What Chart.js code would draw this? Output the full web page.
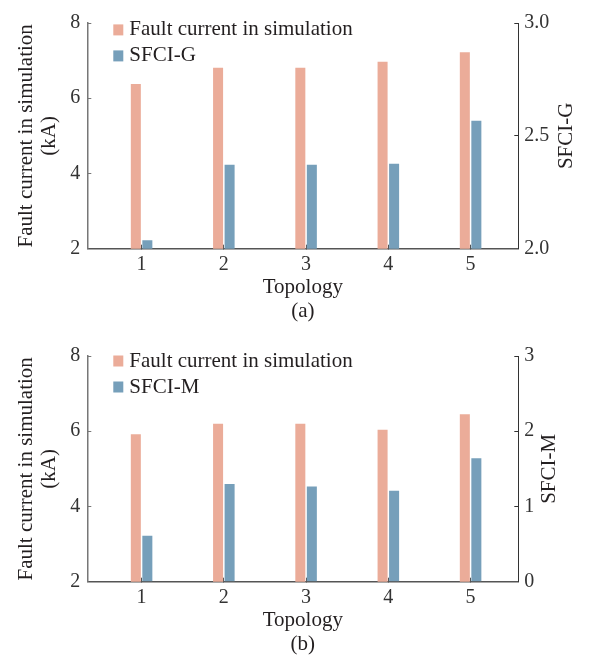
<!DOCTYPE html>
<html>
<head>
<meta charset="utf-8">
<script src="https://cdn.jsdelivr.net/npm/chart.js@4.4.1/dist/chart.umd.min.js"></script>
<style>
    html, body { margin: 0; padding: 0; background: #fff; }
    #pagina { position: relative; width: 591px; height: 664px; overflow: hidden; }
    .painel { position: absolute; left: 0; width: 591px; height: 332px; }
</style>
</head>
<body>
<div id="pagina">
    <div class="painel" style="top:0"><canvas id="graficoA" width="591" height="332"></canvas></div>
    <div class="painel" style="top:333px"><canvas id="graficoB" width="591" height="332"></canvas></div>
</div>
<script>
// Dados
const topologias = [1, 2, 3, 4, 5];
const correnteA = [6.38, 6.81, 6.81, 6.97, 7.22];   // kA, painel (a)
const sfciG = [2.037, 2.372, 2.372, 2.376, 2.567];
const correnteB = [5.92, 6.20, 6.20, 6.04, 6.45];   // kA, painel (b)
const sfciM = [0.61, 1.30, 1.265, 1.21, 1.64];

const ticksCorrente = [2, 4, 6, 8];
const ticksSfciG = [2.0, 2.5, 3.0];
const ticksSfciM = [0, 1, 2, 3];

const COR_SIMULACAO = '#ebac99';
const COR_INDICE = '#769fba';
const FAMILIA = "'Liberation Serif', 'Times New Roman', serif";

// Legenda dentro da área do gráfico (canto superior esquerdo)
const legendaInterna = {
    id: 'legendaInterna',
    afterDraw(chart, args, opts) {
        const { ctx, chartArea } = chart;
        ctx.save();
        ctx.font = `21px ${FAMILIA}`;
        ctx.textBaseline = 'middle';
        ctx.textAlign = 'left';
        chart.data.datasets.forEach((ds, i) => {
            const y = chartArea.top + opts.topo + i * 26;
            const x = chartArea.left + 26;
            ctx.fillStyle = ds.backgroundColor;
            ctx.fillRect(x, y - 5.5, 10, 11);
            ctx.fillStyle = '#231f20';
            ctx.fillText(ds.label, x + 16, y);
        });
        ctx.restore();
    }
};

// Título do eixo direito lido de baixo para cima (igual ao esquerdo)
const tituloDireito = {
    id: 'tituloDireito',
    afterDraw(chart, args, opts) {
        const { ctx, chartArea } = chart;
        ctx.save();
        ctx.translate(opts.x, (chartArea.top + chartArea.bottom) / 2);
        ctx.rotate(-Math.PI / 2);
        ctx.font = `21px ${FAMILIA}`;
        ctx.fillStyle = '#231f20';
        ctx.textAlign = 'center';
        ctx.textBaseline = 'middle';
        ctx.fillText(opts.texto, 0, 0);
        ctx.restore();
    }
};

function montarGrafico(idCanvas, cfg) {
    const ctx = document.getElementById(idCanvas).getContext('2d');
    const fonteTick = { family: FAMILIA, size: 20 };
    const fonteTitulo = { family: FAMILIA, size: 21, lineHeight: 1.1 };

    return new Chart(ctx, {
        type: 'bar',
        data: {
            datasets: [
                {
                    label: 'Fault current in simulation',
                    data: topologias.map((t, i) => ({ x: t, y: cfg.corrente[i] })),
                    backgroundColor: COR_SIMULACAO,
                    yAxisID: 'y'
                },
                {
                    label: cfg.nomeIndice,
                    data: topologias.map((t, i) => ({ x: t, y: cfg.indice[i] })),
                    backgroundColor: COR_INDICE,
                    yAxisID: 'y2'
                }
            ]
        },
        options: {
            responsive: false,
            animation: false,
            events: [],
            categoryPercentage: 0.28,
            barPercentage: 0.87,
            layout: { padding: { top: cfg.topoArea, left: 0, right: 0, bottom: 0 } },
            plugins: {
                legend: { display: false },
                tooltip: { enabled: false },
                legendaInterna: { topo: cfg.topoLegenda },
                tituloDireito: { x: cfg.xTituloDireito, texto: cfg.nomeIndice }
            },
            scales: {
                x: {
                    type: 'linear',
                    min: 0.34,
                    max: 5.58,
                    offset: false,
                    afterBuildTicks: (s) => { s.ticks = topologias.map(v => ({ value: v })); },
                    afterFit: (s) => { s.height = 332 - 248.7; },
                    border: { color: '#555', width: 1.5 },
                    grid: { drawOnChartArea: false, offset: false, tickLength: -4, color: '#555' },
                    ticks: { font: fonteTick, color: '#333', padding: 8, maxRotation: 0 },
                    title: {
                        display: true,
                        text: ['Topology', cfg.legendaPainel],
                        font: fonteTitulo,
                        color: '#231f20',
                        padding: { top: 0, bottom: 9.4 }
                    }
                },
                y: {
                    position: 'left',
                    min: 2,
                    max: 8,
                    afterBuildTicks: (s) => { s.ticks = ticksCorrente.map(v => ({ value: v })); },
                    afterFit: (s) => { s.width = 87.3; },
                    border: { color: '#777', width: 1.5 },
                    grid: { drawOnChartArea: false, tickLength: -4, color: '#777' },
                    ticks: { font: fonteTick, color: '#333', padding: 11 },
                    title: {
                        display: true,
                        text: ['Fault current in simulation', '(kA)'],
                        font: fonteTitulo,
                        color: '#231f20',
                        padding: { top: 14.5, bottom: 0 }
                    }
                },
                y2: {
                    position: 'right',
                    min: cfg.ticksIndice[0],
                    max: cfg.ticksIndice[cfg.ticksIndice.length - 1],
                    afterBuildTicks: (s) => { s.ticks = cfg.ticksIndice.map(v => ({ value: v })); },
                    afterFit: (s) => { s.width = 591 - 518.3; },
                    border: { color: '#333', width: 1 },
                    grid: { drawOnChartArea: false, tickLength: -4, color: '#333' },
                    ticks: {
                        font: fonteTick,
                        color: '#333',
                        padding: 10,
                        callback: (v) => v.toFixed(cfg.casasIndice)
                    }
                }
            }
        },
        plugins: [legendaInterna, tituloDireito]
    });
}

document.addEventListener('DOMContentLoaded', () => {
    // 1. Painel (a): SFCI-G
    montarGrafico('graficoA', {
        corrente: correnteA,
        indice: sfciG,
        nomeIndice: 'SFCI-G',
        ticksIndice: ticksSfciG,
        casasIndice: 1,
        legendaPainel: '(a)',
        topoArea: 12.7,
        topoLegenda: 6.9,
        xTituloDireito: 566.5
    });

    // 2. Painel (b): SFCI-M
    montarGrafico('graficoB', {
        corrente: correnteB,
        indice: sfciM,
        nomeIndice: 'SFCI-M',
        ticksIndice: ticksSfciM,
        casasIndice: 0,
        legendaPainel: '(b)',
        topoArea: 13.7,
        topoLegenda: 5,
        xTituloDireito: 549.5
    });
});
</script>
</body>
</html>
